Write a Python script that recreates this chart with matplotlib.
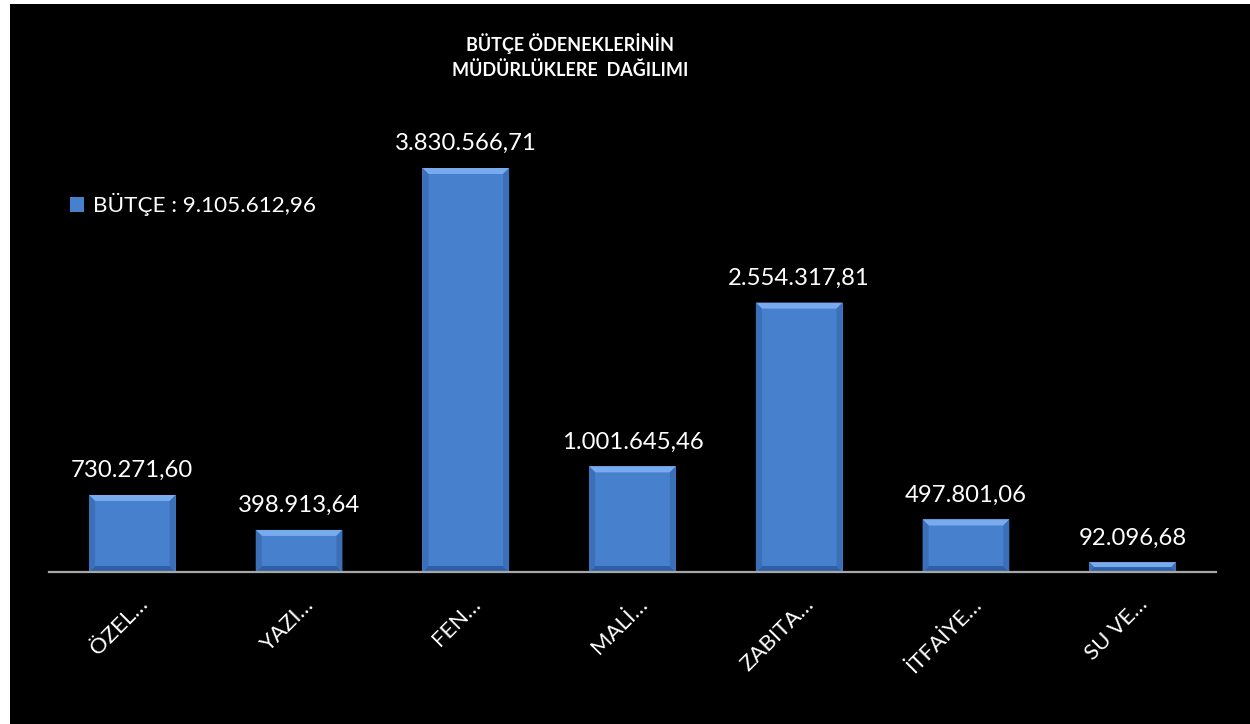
import matplotlib
matplotlib.use("Agg")
import matplotlib.pyplot as plt
from matplotlib.patches import Rectangle, Polygon
import matplotlib.transforms as mtransforms
import numpy as np

plt.rcParams['font.family'] = ['Lato', 'DejaVu Sans']

# veriler
categories = ['ÖZEL…', 'YAZI…', 'FEN…', 'MALİ…', 'ZABITA…', 'İTFAİYE…', 'SU VE…']
values = [730271.60, 398913.64, 3830566.71, 1001645.46, 2554317.81, 497801.06, 92096.68]
value_labels = ['730.271,60', '398.913,64', '3.830.566,71', '1.001.645,46',
                '2.554.317,81', '497.801,06', '92.096,68']
legend_label = 'BÜTÇE : 9.105.612,96'

W, H = 1250, 724
FS = 17.2
fig = plt.figure(figsize=(W / 100, H / 100), dpi=100, facecolor='white')
# siyah zemin (sol ve üst kenarda ince beyaz pay)
fig.patches.append(Rectangle((10 / W, 0), 1 - 10 / W, (H - 4) / H,
                             transform=fig.transFigure, facecolor='black',
                             edgecolor='none', zorder=-10))

ax = fig.add_axes([49 / W, 152 / H, (1216 - 49) / W, 474.6 / H])
ax.set_facecolor('none')
ymax = 4500000
ax.set_ylim(0, ymax)
x = np.arange(len(categories))
ax.set_xlim(-0.5, len(categories) - 0.5)

bar_w = 0.52
bars = ax.bar(x, values, width=bar_w, color='#4780cc', edgecolor='none', zorder=2,
              label=legend_label)

# kabartma (bevel) efekti
px_x = (len(categories)) / (1216 - 49)
px_y = ymax / 474.6
for r in bars:
    x0, y0 = r.get_x(), r.get_y()
    x1, y1 = x0 + r.get_width(), y0 + r.get_height()
    b = min(6, r.get_height() / px_y / 2)
    bx, by = b * px_x, b * px_y
    top = Polygon([(x0, y1), (x1, y1), (x1 - bx, y1 - by), (x0 + bx, y1 - by)],
                  closed=True, facecolor='#78aaee', edgecolor='none', zorder=3)
    bot = Polygon([(x0, y0), (x1, y0), (x1 - bx, y0 + by), (x0 + bx, y0 + by)],
                  closed=True, facecolor='#2f5fa6', edgecolor='none', zorder=3)
    left = Polygon([(x0, y0), (x0, y1), (x0 + bx, y1 - by), (x0 + bx, y0 + by)],
                   closed=True, facecolor='#3b6fb8', edgecolor='none', zorder=3)
    right = Polygon([(x1, y0), (x1, y1), (x1 - bx, y1 - by), (x1 - bx, y0 + by)],
                    closed=True, facecolor='#3b6fb8', edgecolor='none', zorder=3)
    for p in (top, bot, left, right):
        ax.add_patch(p)

for xi, v, lab in zip(x, values, value_labels):
    ax.annotate(lab, (xi, v), xytext=(0, 10), textcoords='offset points',
                ha='center', va='bottom', color='white', fontsize=FS)

# eksenler
for s in ['top', 'right', 'left']:
    ax.spines[s].set_visible(False)
ax.spines['bottom'].set_color('#a6a6a6')
ax.spines['bottom'].set_linewidth(1.6)
ax.spines['bottom'].set_zorder(4)
ax.set_yticks([])
ax.set_xticks(x)
ax.set_xticklabels(categories, rotation=45, ha='right', va='center',
                   rotation_mode='anchor', color='white', fontsize=16)
ax.tick_params(axis='x', length=0, pad=21)
offset = mtransforms.ScaledTranslation(12 / 100, 0, fig.dpi_scale_trans)
for lbl in ax.get_xticklabels():
    lbl.set_transform(lbl.get_transform() + offset)

leg = ax.legend(loc='upper left', bbox_to_anchor=(0.01, 0.818), frameon=False,
                fontsize=16.2, labelcolor='white', handlelength=0.65,
                handleheight=0.65, handletextpad=0.4, borderaxespad=0)

fig.text(570 / W, 1 - 44 / H, 'BÜTÇE ÖDENEKLERİNİN', ha='center', va='center',
         color='white', fontsize=13, fontweight='bold')
fig.text(570 / W, 1 - 70 / H, 'MÜDÜRLÜKLERE  DAĞILIMI', ha='center', va='center',
         color='white', fontsize=13, fontweight='bold')

fig.savefig('out.png', dpi=100, facecolor='white')
